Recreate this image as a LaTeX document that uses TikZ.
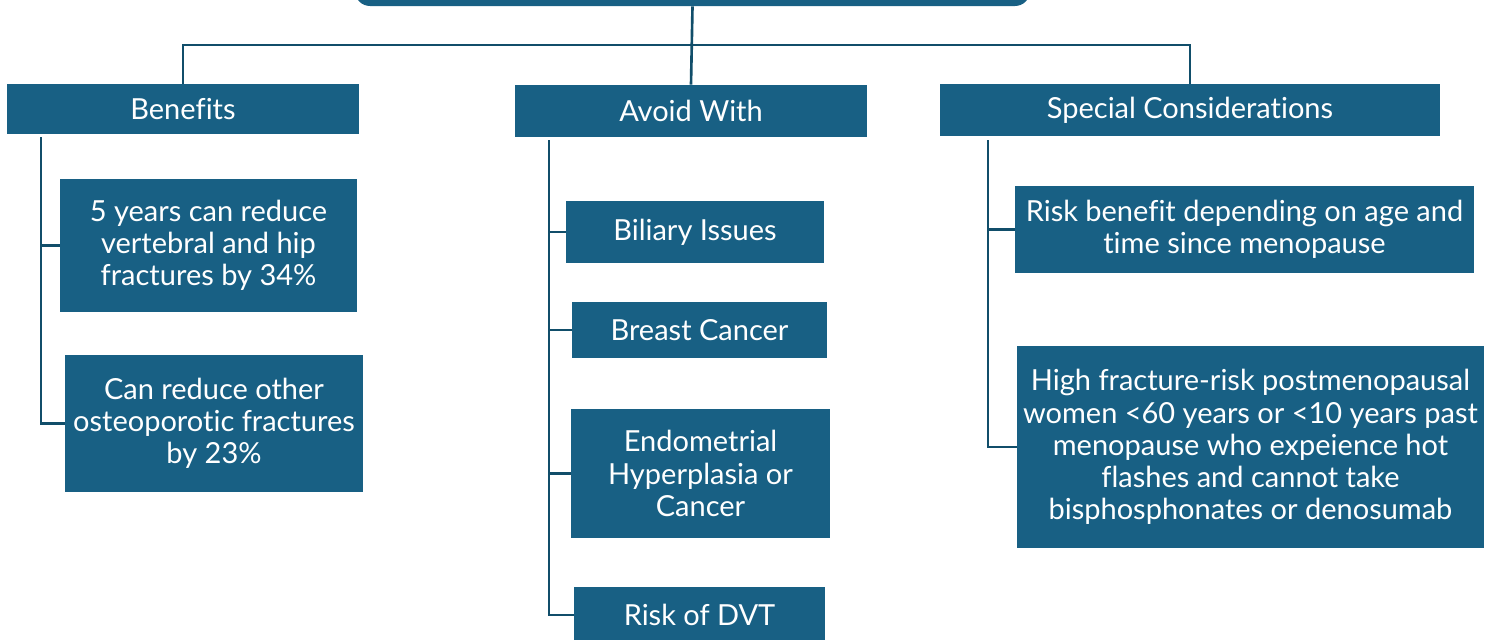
\documentclass[tikz,border=0pt]{standalone}
\usepackage{fontspec}
\setmainfont{Lato}[Ligatures={NoCommon}]
\usetikzlibrary{positioning}
\definecolor{boxblue}{RGB}{24, 96, 132}
\definecolor{linkblue}{RGB}{17, 78, 106}

\tikzset{
	box/.style={fill=boxblue, text=white, align=center, inner sep=0pt,
		font=\fontsize{16.5}{18.3}\selectfont},
	size/.style 2 args={minimum width=#1*0.02cm, minimum height=#2*0.02cm},
	link/.style={draw=linkblue, line width=1.5pt},
}

\begin{document}
\begin{tikzpicture}[x=0.02cm, y=-0.02cm]
	\useasboundingbox (0,0) rectangle (1490,639);
	
	% top of the tree (cut off by the page)
	\node [box, size={675}{60}, rounded corners=0.3cm] (top) at (692.5,-24) {};
	
	\node [box, size={352}{50}] (benefits) at (183,109) {Benefits};
	\node [box, size={352}{52}] (avoid) at (691,111) {Avoid With};
	\node [box, size={500}{52}] (special) at (1190,110) {Special Considerations};
	
	\coordinate (busL) at (183,45);
	\coordinate (busR) at (1190,45);
	\draw [link] (benefits.north) -- (busL) -- (busR) -- (special.north);
	\draw [link] (top.south) -- (avoid.north);
	
	% benefits
	\node [box, size={297}{133}] (ben1) at (208.5,245.5) {5 years can reduce\\vertebral and hip\\fractures by 34\%};
	\node [box, size={298}{137}] (ben2) at (214,423.5) {Can reduce other\\osteoporotic fractures\\by 23\%};
	
	\coordinate (benspine) at (41,137);
	\draw [link] (benspine) |- (ben2.west);
	\draw [link] (benspine |- ben1.west) -- (ben1.west);
	
	% avoid with
	\node [box, size={258}{62}] (av1) at (695,232) {Biliary Issues};
	\node [box, size={255}{56}] (av2) at (699.5,330) {Breast Cancer};
	\node [box, size={259}{129}] (av3) at (700.5,473.5) {Endometrial\\Hyperplasia or\\Cancer};
	\node [box, size={251}{56}] (av4) at (699.5,615) {Risk of DVT};
	
	\coordinate (avspine) at (549,140);
	\draw [link] (avspine) |- (av4.west);
	\foreach \n in {av1, av2, av3}
		\draw [link] (avspine |- \n.west) -- (\n.west);
	
	% special considerations
	\node [box, size={459}{87}] (sp1) at (1244.5,229.5) {Risk benefit depending on age and\\time since menopause};
	\node [box, size={467}{202}] (sp2) at (1250.5,447) {High fracture-risk postmenopausal\\women <60 years or <10 years past\\menopause who expeience hot\\flashes and cannot take\\bisphosphonates or denosumab};
	
	\coordinate (spspine) at (988,140);
	\draw [link] (spspine) |- (sp2.west);
	\draw [link] (spspine |- sp1.west) -- (sp1.west);
\end{tikzpicture}
\end{document}
